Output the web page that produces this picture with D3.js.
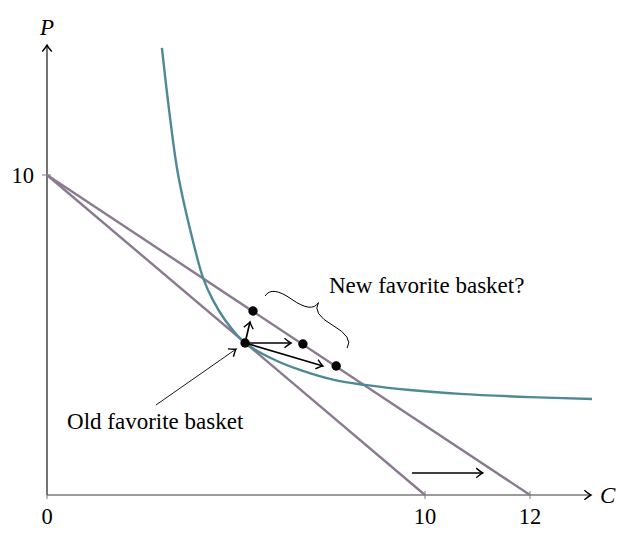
<!DOCTYPE html>
<html><head><meta charset="utf-8">
<script src="https://cdn.jsdelivr.net/npm/d3@7/dist/d3.min.js"></script>
<style>
html,body{margin:0;padding:0;background:#fff;}
text{font-family:"Liberation Serif","Times New Roman",serif;fill:#000;}
</style></head>
<body><svg id="c" width="625" height="543"></svg>
<script>
// ---- data ----
const xTicks = [0, 10, 12];
const yTicks = [10];
const budgetOld = [[0, 10], [10, 0]];
const budgetNew = [[0, 10], [12, 0]];
const indifference = [[3.04,13.97],[3.23,12.03],[3.47,10.0],[3.92,7.66],[4.13,6.78],[4.39,6.09],[4.71,5.47],[5.24,4.75],[6.03,4.22],[6.69,3.91],[7.62,3.59],[8.41,3.44],[9.60,3.28],[10.67,3.16],[12.0,3.06],[13.18,3.0]];
const oldBasket = [5.24, 4.75];
const candidates = [[5.45, 5.75], [6.77, 4.72], [7.65, 4.03]];
const arrowTips = [[5.37, 5.41], [6.455, 4.75], [7.30, 4.03]];
const shiftArrow = [[9.656, 0.69], [11.10, 0.69]];
const oldPointer = [[2.88, 2.81], [5.0, 4.56]];
const braceEnds = [[5.77, 6.22], [7.94, 4.59]];
const labels = [
  {text: "Old favorite basket", x: 0.53, y: 2.06},
  {text: "New favorite basket?", x: 7.46, y: 6.31}
];
const xMax = 13.16, yMax = 14.06;

// ---- scales ----
const x = d3.scaleLinear().domain([0, 10, 12]).range([47, 425, 530]);
const y = d3.scaleLinear().domain([0, 10]).range([495, 175]);

const svg = d3.select("#c");
const defs = svg.append("defs");
defs.append("marker").attr("id","ah").attr("viewBox","-8 -6 10 12")
  .attr("markerWidth",10).attr("markerHeight",12).attr("refX",0).attr("refY",0)
  .attr("orient","auto").attr("markerUnits","userSpaceOnUse")
  .append("path").attr("d","M-6.5,-4.8 Q-2,-1 0,0 Q-2,1 -6.5,4.8")
  .attr("fill","none").attr("stroke","#000").attr("stroke-width",1.4);

const lineGen = d3.line().x(d => x(d[0])).y(d => y(d[1]));

// axes
svg.append("line").attr("x1",x(0)).attr("y1",y(0)).attr("x2",x(xMax)).attr("y2",y(0))
  .attr("stroke","#7a7a7a").attr("stroke-width",1.3).attr("marker-end","url(#ah)");
svg.append("line").attr("x1",x(0)).attr("y1",y(0)).attr("x2",x(0)).attr("y2",y(yMax))
  .attr("stroke","#000").attr("stroke-width",1.1).attr("marker-end","url(#ah)");

// ticks
xTicks.forEach(t => {
  svg.append("line").attr("x1",x(t)).attr("x2",x(t)).attr("y1",y(0)-4).attr("y2",y(0)+4)
    .attr("stroke","#7a7a7a").attr("stroke-width",1);
  svg.append("text").attr("x",x(t)).attr("y",y(0)+29).attr("text-anchor","middle")
    .attr("font-size",22.5).text(t);
});
yTicks.forEach(t => {
  svg.append("line").attr("x1",x(0)-5).attr("x2",x(0)+4).attr("y1",y(t)).attr("y2",y(t))
    .attr("stroke","#7a7a7a").attr("stroke-width",1);
  svg.append("text").attr("x",x(0)-13).attr("y",y(t)+7.5).attr("text-anchor","end")
    .attr("font-size",22.5).text(t);
});
svg.append("text").attr("x",x(0)).attr("y",y(yMax)-10).attr("text-anchor","middle")
  .attr("font-size",23).attr("font-style","italic").text("P");
svg.append("text").attr("x",x(xMax)+9).attr("y",y(0)+8)
  .attr("font-size",23).attr("font-style","italic").text("C");

// budget lines
[budgetOld, budgetNew].forEach(b => {
  svg.append("path").attr("d", lineGen(b)).attr("fill","none")
    .attr("stroke","#8b7a8f").attr("stroke-width",2.4);
});

// indifference curve
svg.append("path").attr("d", d3.line().x(d=>x(d[0])).y(d=>y(d[1])).curve(d3.curveCatmullRom.alpha(0.5))(indifference))
  .attr("fill","none").attr("stroke","#4e8996").attr("stroke-width",2.4);

// arrows from old basket
arrowTips.forEach(t => {
  svg.append("line").attr("x1",x(oldBasket[0])).attr("y1",y(oldBasket[1]))
    .attr("x2",x(t[0])).attr("y2",y(t[1])).attr("stroke","#000").attr("stroke-width",1.7)
    .attr("marker-end","url(#ah)");
});
// shift arrow
svg.append("line").attr("x1",x(shiftArrow[0][0])).attr("y1",y(shiftArrow[0][1]))
  .attr("x2",x(shiftArrow[1][0])).attr("y2",y(shiftArrow[1][1]))
  .attr("stroke","#000").attr("stroke-width",1.5).attr("marker-end","url(#ah)");
// old basket pointer
svg.append("line").attr("x1",x(oldPointer[0][0])).attr("y1",y(oldPointer[0][1]))
  .attr("x2",x(oldPointer[1][0])).attr("y2",y(oldPointer[1][1]))
  .attr("stroke","#000").attr("stroke-width",0.9).attr("marker-end","url(#ah)");

// dots
[oldBasket].concat(candidates).forEach(p => {
  svg.append("circle").attr("cx",x(p[0])).attr("cy",y(p[1])).attr("r",4.7).attr("fill","#000");
});

// brace
(function(){
  const p0 = [x(braceEnds[0][0]), y(braceEnds[0][1])];
  const p1 = [x(braceEnds[1][0]), y(braceEnds[1][1])];
  const dx = p1[0]-p0[0], dy = p1[1]-p0[1], L = Math.hypot(dx,dy);
  const d = [dx/L, dy/L];
  const n = [d[1], -d[0]];
  const a = 23;
  const P = (base, s, t) => [base[0] + d[0]*s + n[0]*t, base[1] + d[1]*s + n[1]*t];
  const m = [(p0[0]+p1[0])/2, (p0[1]+p1[1])/2];
  const c1 = P(p0, 0, a*0.55), q1 = P(p0, L*0.25, a*0.5);
  const c2 = P(m, 0, a*0.45), tip = P(m, 0, a);
  const c3 = P(m, 0, a*0.45), q2 = P(p1, -L*0.25, a*0.5);
  const c4 = P(p1, 0, a*0.55);
  const f = p => p[0].toFixed(2)+","+p[1].toFixed(2);
  const path = `M${f(p0)} Q${f(c1)} ${f(q1)} Q${f(c2)} ${f(tip)} Q${f(c3)} ${f(q2)} Q${f(c4)} ${f(p1)}`;
  svg.append("path").attr("d",path).attr("fill","none").attr("stroke","#000").attr("stroke-width",1);
})();

// labels
labels.forEach(l => {
  svg.append("text").attr("x",x(l.x)).attr("y",y(l.y)).attr("font-size",23).text(l.text);
});
</script></body></html>
